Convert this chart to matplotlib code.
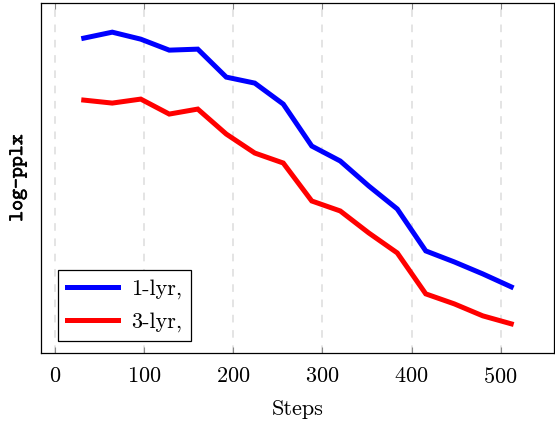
import matplotlib
matplotlib.use("Agg")
import matplotlib.pyplot as plt
import matplotlib.patheffects as pe

plt.rcParams["font.family"] = ["cmr10", "DejaVu Serif"]
plt.rcParams["mathtext.fontset"] = "cm"
plt.rcParams["axes.formatter.use_mathtext"] = True

steps = [32, 64, 96, 128, 160, 192, 224, 256, 288, 320, 352, 384, 416, 448, 480, 512]
# log-pplx values (arbitrary units, no y ticks shown)
pplx_1lyr = [4.63, 4.69, 4.62, 4.51, 4.52, 4.24, 4.18, 3.97, 3.55, 3.40,
             3.15, 2.92, 2.50, 2.39, 2.27, 2.14]
pplx_3lyr = [4.01, 3.98, 4.02, 3.87, 3.92, 3.67, 3.48, 3.38, 3.00, 2.90,
             2.68, 2.48, 2.07, 1.97, 1.85, 1.77]
x_ticks = [0, 100, 200, 300, 400, 500]

fig = plt.figure(figsize=(5.55, 4.21), dpi=100)
ax = fig.add_axes([41 / 555, 68 / 421, 513 / 555, 350 / 421])

ax.plot(steps, pplx_1lyr, color="#0000ff", linewidth=3.6, label="1-lyr,",
        solid_joinstyle="miter", zorder=3)
ax.plot(steps, pplx_3lyr, color="#ff0000", linewidth=3.6, label="3-lyr,",
        solid_joinstyle="miter", zorder=3)

ax.margins(x=0.1, y=0.1)
ax.set_xticks(x_ticks)
ax.set_yticks([])
ax.tick_params(axis="x", direction="in", length=4, width=0.8, color="#888888",
               top=True, labelsize=16, pad=10)
ax.grid(True, axis="x", color="#dddddd", linestyle=(0, (5, 5)), linewidth=1.1)
for sp in ax.spines.values():
    sp.set_linewidth(0.9)

ax.set_xlabel("Steps", fontsize=16, labelpad=9)
ax.set_ylabel("log-pplx", fontsize=15, family="cmtt10", labelpad=10,
              path_effects=[pe.withStroke(linewidth=0.4, foreground="black")])

leg = ax.legend(loc="lower left", bbox_to_anchor=(17 / 513, 12 / 350),
                borderaxespad=0, fontsize=16, handlelength=2.3,
                fancybox=False, edgecolor="black", framealpha=1,
                labelspacing=0.6, borderpad=0.4, handletextpad=0.6)
leg.get_frame().set_linewidth(0.9)

fig.savefig("out.png", dpi=100)
